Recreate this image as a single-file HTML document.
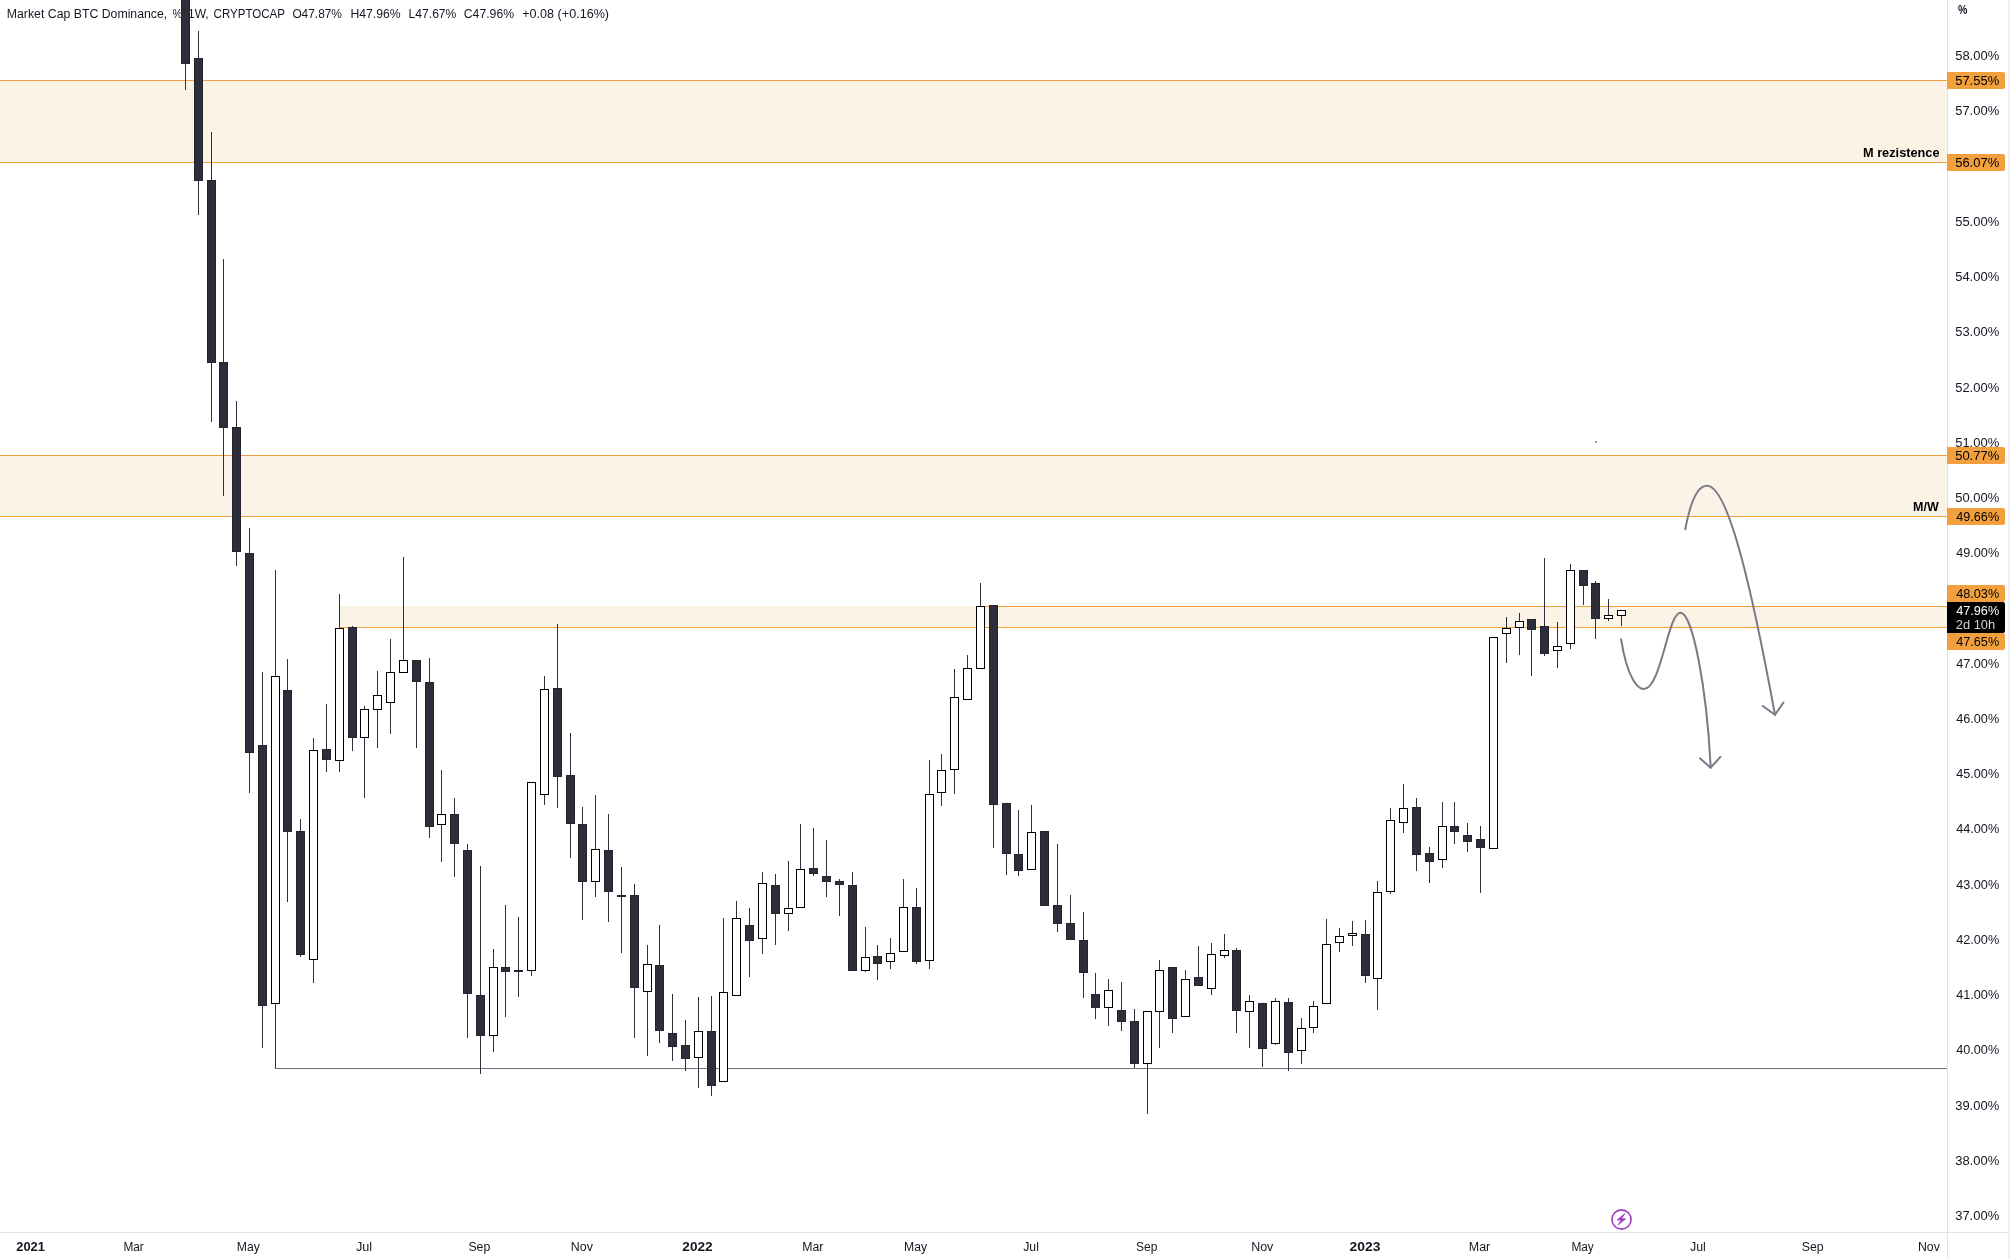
<!DOCTYPE html>
<html><head><meta charset="utf-8"><title>BTC Dominance</title>
<style>
html,body{margin:0;padding:0;background:#fff;}
body{width:2011px;height:1258px;overflow:hidden;position:relative;font-family:"Liberation Sans",sans-serif;}
svg{position:absolute;left:0;top:0;will-change:transform;}
text{font-family:"Liberation Sans",sans-serif;}
</style></head><body>
<svg width="2011" height="1258" viewBox="0 0 2011 1258">
<rect x="0" y="0" width="2011" height="1258" fill="#ffffff"/>

<g shape-rendering="crispEdges">
<rect x="0" y="80" width="1947" height="82" fill="#fcf3e7"/>
<rect x="0" y="455" width="1947" height="61" fill="#fcf3e7"/>
<rect x="340" y="606" width="1607" height="21" fill="#fcf3e7"/>
<rect x="0" y="80" width="1947" height="1" fill="#f2a03d"/>
<rect x="0" y="162" width="1947" height="1" fill="#f2a03d"/>
<rect x="0" y="455" width="1947" height="1" fill="#f2a03d"/>
<rect x="0" y="516" width="1947" height="1" fill="#f2a03d"/>
<rect x="340" y="627" width="1607" height="1" fill="#f2a03d"/>
<rect x="980" y="606" width="967" height="1" fill="#f2a03d"/>
<rect x="275" y="1068" width="1672" height="1" fill="#6f727c"/>
</g>
<text x="6.80" y="18" font-size="12.5" textLength="160.46" lengthAdjust="spacingAndGlyphs" fill="#131722">Market Cap BTC Dominance,</text>
<text x="172.38" y="18" font-size="12.5" textLength="12.82" lengthAdjust="spacingAndGlyphs" fill="#131722">%,</text>
<text x="188.04" y="18" font-size="12.5" textLength="20.68" lengthAdjust="spacingAndGlyphs" fill="#131722">1W,</text>
<text x="213.58" y="18" font-size="12.5" textLength="71.32" lengthAdjust="spacingAndGlyphs" fill="#131722">CRYPTOCAP</text>
<text x="292.39" y="18" font-size="12.5" textLength="49.57" lengthAdjust="spacingAndGlyphs" fill="#131722">O47.87%</text>
<text x="350.40" y="18" font-size="12.5" textLength="50.15" lengthAdjust="spacingAndGlyphs" fill="#131722">H47.96%</text>
<text x="408.61" y="18" font-size="12.5" textLength="47.75" lengthAdjust="spacingAndGlyphs" fill="#131722">L47.67%</text>
<text x="463.80" y="18" font-size="12.5" textLength="50.25" lengthAdjust="spacingAndGlyphs" fill="#131722">C47.96%</text>
<text x="522.20" y="18" font-size="12.5" textLength="86.87" lengthAdjust="spacingAndGlyphs" fill="#131722">+0.08 (+0.16%)</text>
<g shape-rendering="crispEdges">
<rect x="185" y="64" width="1" height="26" fill="#2c2f39"/>
<rect x="181" y="-10" width="9" height="74" fill="#22242f"/>
<rect x="182" y="-9" width="7" height="72" fill="#2c2f39"/>
<rect x="198" y="31" width="1" height="27" fill="#2c2f39"/>
<rect x="198" y="181" width="1" height="34" fill="#2c2f39"/>
<rect x="194" y="58" width="9" height="123" fill="#22242f"/>
<rect x="195" y="59" width="7" height="121" fill="#2c2f39"/>
<rect x="211" y="132" width="1" height="48" fill="#2c2f39"/>
<rect x="211" y="363" width="1" height="59" fill="#2c2f39"/>
<rect x="207" y="180" width="9" height="183" fill="#22242f"/>
<rect x="208" y="181" width="7" height="181" fill="#2c2f39"/>
<rect x="223" y="259" width="1" height="103" fill="#2c2f39"/>
<rect x="223" y="428" width="1" height="68" fill="#2c2f39"/>
<rect x="219" y="362" width="9" height="66" fill="#22242f"/>
<rect x="220" y="363" width="7" height="64" fill="#2c2f39"/>
<rect x="236" y="401" width="1" height="26" fill="#2c2f39"/>
<rect x="236" y="552" width="1" height="14" fill="#2c2f39"/>
<rect x="232" y="427" width="9" height="125" fill="#22242f"/>
<rect x="233" y="428" width="7" height="123" fill="#2c2f39"/>
<rect x="249" y="528" width="1" height="25" fill="#2c2f39"/>
<rect x="249" y="753" width="1" height="40" fill="#2c2f39"/>
<rect x="245" y="553" width="9" height="200" fill="#22242f"/>
<rect x="246" y="554" width="7" height="198" fill="#2c2f39"/>
<rect x="262" y="672" width="1" height="73" fill="#2c2f39"/>
<rect x="262" y="1006" width="1" height="42" fill="#2c2f39"/>
<rect x="258" y="745" width="9" height="261" fill="#22242f"/>
<rect x="259" y="746" width="7" height="259" fill="#2c2f39"/>
<rect x="275" y="570" width="1" height="106" fill="#2c2f39"/>
<rect x="275" y="1004" width="1" height="64" fill="#2c2f39"/>
<rect x="271" y="676" width="9" height="328" fill="#000"/>
<rect x="272" y="677" width="7" height="326" fill="#fff"/>
<rect x="287" y="659" width="1" height="31" fill="#2c2f39"/>
<rect x="287" y="832" width="1" height="70" fill="#2c2f39"/>
<rect x="283" y="690" width="9" height="142" fill="#22242f"/>
<rect x="284" y="691" width="7" height="140" fill="#2c2f39"/>
<rect x="300" y="819" width="1" height="12" fill="#2c2f39"/>
<rect x="300" y="955" width="1" height="2" fill="#2c2f39"/>
<rect x="296" y="831" width="9" height="124" fill="#22242f"/>
<rect x="297" y="832" width="7" height="122" fill="#2c2f39"/>
<rect x="313" y="738" width="1" height="12" fill="#2c2f39"/>
<rect x="313" y="960" width="1" height="23" fill="#2c2f39"/>
<rect x="309" y="750" width="9" height="210" fill="#000"/>
<rect x="310" y="751" width="7" height="208" fill="#fff"/>
<rect x="326" y="704" width="1" height="45" fill="#2c2f39"/>
<rect x="326" y="760" width="1" height="12" fill="#2c2f39"/>
<rect x="322" y="749" width="9" height="11" fill="#22242f"/>
<rect x="323" y="750" width="7" height="9" fill="#2c2f39"/>
<rect x="339" y="594" width="1" height="34" fill="#2c2f39"/>
<rect x="339" y="761" width="1" height="11" fill="#2c2f39"/>
<rect x="335" y="628" width="9" height="133" fill="#000"/>
<rect x="336" y="629" width="7" height="131" fill="#fff"/>
<rect x="352" y="626" width="1" height="1" fill="#2c2f39"/>
<rect x="352" y="738" width="1" height="13" fill="#2c2f39"/>
<rect x="348" y="627" width="9" height="111" fill="#22242f"/>
<rect x="349" y="628" width="7" height="109" fill="#2c2f39"/>
<rect x="364" y="706" width="1" height="3" fill="#2c2f39"/>
<rect x="364" y="738" width="1" height="60" fill="#2c2f39"/>
<rect x="360" y="709" width="9" height="29" fill="#000"/>
<rect x="361" y="710" width="7" height="27" fill="#fff"/>
<rect x="377" y="671" width="1" height="24" fill="#2c2f39"/>
<rect x="377" y="710" width="1" height="38" fill="#2c2f39"/>
<rect x="373" y="695" width="9" height="15" fill="#000"/>
<rect x="374" y="696" width="7" height="13" fill="#fff"/>
<rect x="390" y="639" width="1" height="33" fill="#2c2f39"/>
<rect x="390" y="703" width="1" height="31" fill="#2c2f39"/>
<rect x="386" y="672" width="9" height="31" fill="#000"/>
<rect x="387" y="673" width="7" height="29" fill="#fff"/>
<rect x="403" y="557" width="1" height="103" fill="#2c2f39"/>
<rect x="399" y="660" width="9" height="13" fill="#000"/>
<rect x="400" y="661" width="7" height="11" fill="#fff"/>
<rect x="416" y="682" width="1" height="66" fill="#2c2f39"/>
<rect x="412" y="660" width="9" height="22" fill="#22242f"/>
<rect x="413" y="661" width="7" height="20" fill="#2c2f39"/>
<rect x="429" y="658" width="1" height="24" fill="#2c2f39"/>
<rect x="429" y="827" width="1" height="11" fill="#2c2f39"/>
<rect x="425" y="682" width="9" height="145" fill="#22242f"/>
<rect x="426" y="683" width="7" height="143" fill="#2c2f39"/>
<rect x="441" y="770" width="1" height="44" fill="#2c2f39"/>
<rect x="441" y="825" width="1" height="37" fill="#2c2f39"/>
<rect x="437" y="814" width="9" height="11" fill="#000"/>
<rect x="438" y="815" width="7" height="9" fill="#fff"/>
<rect x="454" y="798" width="1" height="16" fill="#2c2f39"/>
<rect x="454" y="844" width="1" height="33" fill="#2c2f39"/>
<rect x="450" y="814" width="9" height="30" fill="#22242f"/>
<rect x="451" y="815" width="7" height="28" fill="#2c2f39"/>
<rect x="467" y="844" width="1" height="6" fill="#2c2f39"/>
<rect x="467" y="994" width="1" height="44" fill="#2c2f39"/>
<rect x="463" y="850" width="9" height="144" fill="#22242f"/>
<rect x="464" y="851" width="7" height="142" fill="#2c2f39"/>
<rect x="480" y="866" width="1" height="129" fill="#2c2f39"/>
<rect x="480" y="1036" width="1" height="38" fill="#2c2f39"/>
<rect x="476" y="995" width="9" height="41" fill="#22242f"/>
<rect x="477" y="996" width="7" height="39" fill="#2c2f39"/>
<rect x="493" y="949" width="1" height="18" fill="#2c2f39"/>
<rect x="493" y="1036" width="1" height="16" fill="#2c2f39"/>
<rect x="489" y="967" width="9" height="69" fill="#000"/>
<rect x="490" y="968" width="7" height="67" fill="#fff"/>
<rect x="505" y="905" width="1" height="62" fill="#2c2f39"/>
<rect x="505" y="972" width="1" height="45" fill="#2c2f39"/>
<rect x="501" y="967" width="9" height="5" fill="#22242f"/>
<rect x="502" y="968" width="7" height="3" fill="#2c2f39"/>
<rect x="518" y="917" width="1" height="53" fill="#2c2f39"/>
<rect x="518" y="970" width="1" height="27" fill="#2c2f39"/>
<rect x="514" y="970" width="9" height="2" fill="#22242f"/>
<rect x="531" y="971" width="1" height="5" fill="#2c2f39"/>
<rect x="527" y="782" width="9" height="189" fill="#000"/>
<rect x="528" y="783" width="7" height="187" fill="#fff"/>
<rect x="544" y="676" width="1" height="13" fill="#2c2f39"/>
<rect x="544" y="795" width="1" height="10" fill="#2c2f39"/>
<rect x="540" y="689" width="9" height="106" fill="#000"/>
<rect x="541" y="690" width="7" height="104" fill="#fff"/>
<rect x="557" y="624" width="1" height="64" fill="#2c2f39"/>
<rect x="557" y="777" width="1" height="31" fill="#2c2f39"/>
<rect x="553" y="688" width="9" height="89" fill="#22242f"/>
<rect x="554" y="689" width="7" height="87" fill="#2c2f39"/>
<rect x="570" y="733" width="1" height="42" fill="#2c2f39"/>
<rect x="570" y="824" width="1" height="34" fill="#2c2f39"/>
<rect x="566" y="775" width="9" height="49" fill="#22242f"/>
<rect x="567" y="776" width="7" height="47" fill="#2c2f39"/>
<rect x="582" y="807" width="1" height="17" fill="#2c2f39"/>
<rect x="582" y="882" width="1" height="38" fill="#2c2f39"/>
<rect x="578" y="824" width="9" height="58" fill="#22242f"/>
<rect x="579" y="825" width="7" height="56" fill="#2c2f39"/>
<rect x="595" y="795" width="1" height="54" fill="#2c2f39"/>
<rect x="595" y="882" width="1" height="15" fill="#2c2f39"/>
<rect x="591" y="849" width="9" height="33" fill="#000"/>
<rect x="592" y="850" width="7" height="31" fill="#fff"/>
<rect x="608" y="814" width="1" height="36" fill="#2c2f39"/>
<rect x="608" y="892" width="1" height="30" fill="#2c2f39"/>
<rect x="604" y="850" width="9" height="42" fill="#22242f"/>
<rect x="605" y="851" width="7" height="40" fill="#2c2f39"/>
<rect x="621" y="867" width="1" height="28" fill="#2c2f39"/>
<rect x="621" y="895" width="1" height="58" fill="#2c2f39"/>
<rect x="617" y="895" width="9" height="2" fill="#22242f"/>
<rect x="634" y="884" width="1" height="11" fill="#2c2f39"/>
<rect x="634" y="988" width="1" height="50" fill="#2c2f39"/>
<rect x="630" y="895" width="9" height="93" fill="#22242f"/>
<rect x="631" y="896" width="7" height="91" fill="#2c2f39"/>
<rect x="647" y="945" width="1" height="19" fill="#2c2f39"/>
<rect x="647" y="992" width="1" height="64" fill="#2c2f39"/>
<rect x="643" y="964" width="9" height="28" fill="#000"/>
<rect x="644" y="965" width="7" height="26" fill="#fff"/>
<rect x="659" y="925" width="1" height="40" fill="#2c2f39"/>
<rect x="659" y="1031" width="1" height="12" fill="#2c2f39"/>
<rect x="655" y="965" width="9" height="66" fill="#22242f"/>
<rect x="656" y="966" width="7" height="64" fill="#2c2f39"/>
<rect x="672" y="994" width="1" height="39" fill="#2c2f39"/>
<rect x="672" y="1047" width="1" height="14" fill="#2c2f39"/>
<rect x="668" y="1033" width="9" height="14" fill="#22242f"/>
<rect x="669" y="1034" width="7" height="12" fill="#2c2f39"/>
<rect x="685" y="1020" width="1" height="25" fill="#2c2f39"/>
<rect x="685" y="1059" width="1" height="12" fill="#2c2f39"/>
<rect x="681" y="1045" width="9" height="14" fill="#22242f"/>
<rect x="682" y="1046" width="7" height="12" fill="#2c2f39"/>
<rect x="698" y="997" width="1" height="34" fill="#2c2f39"/>
<rect x="698" y="1058" width="1" height="30" fill="#2c2f39"/>
<rect x="694" y="1031" width="9" height="27" fill="#000"/>
<rect x="695" y="1032" width="7" height="25" fill="#fff"/>
<rect x="711" y="996" width="1" height="35" fill="#2c2f39"/>
<rect x="711" y="1086" width="1" height="10" fill="#2c2f39"/>
<rect x="707" y="1031" width="9" height="55" fill="#22242f"/>
<rect x="708" y="1032" width="7" height="53" fill="#2c2f39"/>
<rect x="723" y="918" width="1" height="74" fill="#2c2f39"/>
<rect x="719" y="992" width="9" height="90" fill="#000"/>
<rect x="720" y="993" width="7" height="88" fill="#fff"/>
<rect x="736" y="901" width="1" height="17" fill="#2c2f39"/>
<rect x="732" y="918" width="9" height="78" fill="#000"/>
<rect x="733" y="919" width="7" height="76" fill="#fff"/>
<rect x="749" y="908" width="1" height="17" fill="#2c2f39"/>
<rect x="749" y="941" width="1" height="36" fill="#2c2f39"/>
<rect x="745" y="925" width="9" height="16" fill="#22242f"/>
<rect x="746" y="926" width="7" height="14" fill="#2c2f39"/>
<rect x="762" y="872" width="1" height="11" fill="#2c2f39"/>
<rect x="762" y="939" width="1" height="15" fill="#2c2f39"/>
<rect x="758" y="883" width="9" height="56" fill="#000"/>
<rect x="759" y="884" width="7" height="54" fill="#fff"/>
<rect x="775" y="874" width="1" height="11" fill="#2c2f39"/>
<rect x="775" y="914" width="1" height="31" fill="#2c2f39"/>
<rect x="771" y="885" width="9" height="29" fill="#22242f"/>
<rect x="772" y="886" width="7" height="27" fill="#2c2f39"/>
<rect x="788" y="861" width="1" height="47" fill="#2c2f39"/>
<rect x="788" y="914" width="1" height="17" fill="#2c2f39"/>
<rect x="784" y="908" width="9" height="6" fill="#000"/>
<rect x="785" y="909" width="7" height="4" fill="#fff"/>
<rect x="800" y="824" width="1" height="45" fill="#2c2f39"/>
<rect x="796" y="869" width="9" height="39" fill="#000"/>
<rect x="797" y="870" width="7" height="37" fill="#fff"/>
<rect x="813" y="828" width="1" height="40" fill="#2c2f39"/>
<rect x="813" y="874" width="1" height="2" fill="#2c2f39"/>
<rect x="809" y="868" width="9" height="6" fill="#22242f"/>
<rect x="810" y="869" width="7" height="4" fill="#2c2f39"/>
<rect x="826" y="840" width="1" height="36" fill="#2c2f39"/>
<rect x="826" y="882" width="1" height="15" fill="#2c2f39"/>
<rect x="822" y="876" width="9" height="6" fill="#22242f"/>
<rect x="823" y="877" width="7" height="4" fill="#2c2f39"/>
<rect x="839" y="879" width="1" height="2" fill="#2c2f39"/>
<rect x="839" y="885" width="1" height="31" fill="#2c2f39"/>
<rect x="835" y="881" width="9" height="4" fill="#22242f"/>
<rect x="836" y="882" width="7" height="2" fill="#2c2f39"/>
<rect x="852" y="872" width="1" height="13" fill="#2c2f39"/>
<rect x="848" y="885" width="9" height="86" fill="#22242f"/>
<rect x="849" y="886" width="7" height="84" fill="#2c2f39"/>
<rect x="865" y="927" width="1" height="30" fill="#2c2f39"/>
<rect x="865" y="971" width="1" height="1" fill="#2c2f39"/>
<rect x="861" y="957" width="9" height="14" fill="#000"/>
<rect x="862" y="958" width="7" height="12" fill="#fff"/>
<rect x="877" y="945" width="1" height="11" fill="#2c2f39"/>
<rect x="877" y="964" width="1" height="16" fill="#2c2f39"/>
<rect x="873" y="956" width="9" height="8" fill="#22242f"/>
<rect x="874" y="957" width="7" height="6" fill="#2c2f39"/>
<rect x="890" y="938" width="1" height="15" fill="#2c2f39"/>
<rect x="890" y="962" width="1" height="7" fill="#2c2f39"/>
<rect x="886" y="953" width="9" height="9" fill="#000"/>
<rect x="887" y="954" width="7" height="7" fill="#fff"/>
<rect x="903" y="879" width="1" height="28" fill="#2c2f39"/>
<rect x="899" y="907" width="9" height="45" fill="#000"/>
<rect x="900" y="908" width="7" height="43" fill="#fff"/>
<rect x="916" y="888" width="1" height="19" fill="#2c2f39"/>
<rect x="916" y="962" width="1" height="2" fill="#2c2f39"/>
<rect x="912" y="907" width="9" height="55" fill="#22242f"/>
<rect x="913" y="908" width="7" height="53" fill="#2c2f39"/>
<rect x="929" y="760" width="1" height="34" fill="#2c2f39"/>
<rect x="929" y="961" width="1" height="8" fill="#2c2f39"/>
<rect x="925" y="794" width="9" height="167" fill="#000"/>
<rect x="926" y="795" width="7" height="165" fill="#fff"/>
<rect x="941" y="754" width="1" height="16" fill="#2c2f39"/>
<rect x="941" y="793" width="1" height="13" fill="#2c2f39"/>
<rect x="937" y="770" width="9" height="23" fill="#000"/>
<rect x="938" y="771" width="7" height="21" fill="#fff"/>
<rect x="954" y="669" width="1" height="28" fill="#2c2f39"/>
<rect x="954" y="770" width="1" height="24" fill="#2c2f39"/>
<rect x="950" y="697" width="9" height="73" fill="#000"/>
<rect x="951" y="698" width="7" height="71" fill="#fff"/>
<rect x="967" y="655" width="1" height="13" fill="#2c2f39"/>
<rect x="963" y="668" width="9" height="32" fill="#000"/>
<rect x="964" y="669" width="7" height="30" fill="#fff"/>
<rect x="980" y="583" width="1" height="23" fill="#2c2f39"/>
<rect x="976" y="606" width="9" height="63" fill="#000"/>
<rect x="977" y="607" width="7" height="61" fill="#fff"/>
<rect x="993" y="805" width="1" height="43" fill="#2c2f39"/>
<rect x="989" y="605" width="9" height="200" fill="#22242f"/>
<rect x="990" y="606" width="7" height="198" fill="#2c2f39"/>
<rect x="1006" y="854" width="1" height="21" fill="#2c2f39"/>
<rect x="1002" y="803" width="9" height="51" fill="#22242f"/>
<rect x="1003" y="804" width="7" height="49" fill="#2c2f39"/>
<rect x="1018" y="810" width="1" height="44" fill="#2c2f39"/>
<rect x="1018" y="871" width="1" height="5" fill="#2c2f39"/>
<rect x="1014" y="854" width="9" height="17" fill="#22242f"/>
<rect x="1015" y="855" width="7" height="15" fill="#2c2f39"/>
<rect x="1031" y="805" width="1" height="27" fill="#2c2f39"/>
<rect x="1027" y="832" width="9" height="38" fill="#000"/>
<rect x="1028" y="833" width="7" height="36" fill="#fff"/>
<rect x="1040" y="831" width="9" height="75" fill="#22242f"/>
<rect x="1041" y="832" width="7" height="73" fill="#2c2f39"/>
<rect x="1057" y="844" width="1" height="61" fill="#2c2f39"/>
<rect x="1057" y="924" width="1" height="8" fill="#2c2f39"/>
<rect x="1053" y="905" width="9" height="19" fill="#22242f"/>
<rect x="1054" y="906" width="7" height="17" fill="#2c2f39"/>
<rect x="1070" y="895" width="1" height="28" fill="#2c2f39"/>
<rect x="1066" y="923" width="9" height="17" fill="#22242f"/>
<rect x="1067" y="924" width="7" height="15" fill="#2c2f39"/>
<rect x="1083" y="912" width="1" height="28" fill="#2c2f39"/>
<rect x="1083" y="973" width="1" height="25" fill="#2c2f39"/>
<rect x="1079" y="940" width="9" height="33" fill="#22242f"/>
<rect x="1080" y="941" width="7" height="31" fill="#2c2f39"/>
<rect x="1095" y="973" width="1" height="21" fill="#2c2f39"/>
<rect x="1095" y="1008" width="1" height="11" fill="#2c2f39"/>
<rect x="1091" y="994" width="9" height="14" fill="#22242f"/>
<rect x="1092" y="995" width="7" height="12" fill="#2c2f39"/>
<rect x="1108" y="979" width="1" height="11" fill="#2c2f39"/>
<rect x="1108" y="1008" width="1" height="18" fill="#2c2f39"/>
<rect x="1104" y="990" width="9" height="18" fill="#000"/>
<rect x="1105" y="991" width="7" height="16" fill="#fff"/>
<rect x="1121" y="982" width="1" height="28" fill="#2c2f39"/>
<rect x="1121" y="1022" width="1" height="9" fill="#2c2f39"/>
<rect x="1117" y="1010" width="9" height="12" fill="#22242f"/>
<rect x="1118" y="1011" width="7" height="10" fill="#2c2f39"/>
<rect x="1134" y="1009" width="1" height="12" fill="#2c2f39"/>
<rect x="1134" y="1064" width="1" height="4" fill="#2c2f39"/>
<rect x="1130" y="1021" width="9" height="43" fill="#22242f"/>
<rect x="1131" y="1022" width="7" height="41" fill="#2c2f39"/>
<rect x="1147" y="1064" width="1" height="50" fill="#2c2f39"/>
<rect x="1143" y="1011" width="9" height="53" fill="#000"/>
<rect x="1144" y="1012" width="7" height="51" fill="#fff"/>
<rect x="1159" y="960" width="1" height="10" fill="#2c2f39"/>
<rect x="1159" y="1012" width="1" height="36" fill="#2c2f39"/>
<rect x="1155" y="970" width="9" height="42" fill="#000"/>
<rect x="1156" y="971" width="7" height="40" fill="#fff"/>
<rect x="1172" y="1019" width="1" height="14" fill="#2c2f39"/>
<rect x="1168" y="967" width="9" height="52" fill="#22242f"/>
<rect x="1169" y="968" width="7" height="50" fill="#2c2f39"/>
<rect x="1185" y="970" width="1" height="9" fill="#2c2f39"/>
<rect x="1181" y="979" width="9" height="38" fill="#000"/>
<rect x="1182" y="980" width="7" height="36" fill="#fff"/>
<rect x="1198" y="946" width="1" height="31" fill="#2c2f39"/>
<rect x="1194" y="977" width="9" height="9" fill="#22242f"/>
<rect x="1195" y="978" width="7" height="7" fill="#2c2f39"/>
<rect x="1211" y="943" width="1" height="11" fill="#2c2f39"/>
<rect x="1211" y="989" width="1" height="6" fill="#2c2f39"/>
<rect x="1207" y="954" width="9" height="35" fill="#000"/>
<rect x="1208" y="955" width="7" height="33" fill="#fff"/>
<rect x="1224" y="934" width="1" height="16" fill="#2c2f39"/>
<rect x="1224" y="956" width="1" height="2" fill="#2c2f39"/>
<rect x="1220" y="950" width="9" height="6" fill="#000"/>
<rect x="1221" y="951" width="7" height="4" fill="#fff"/>
<rect x="1236" y="948" width="1" height="2" fill="#2c2f39"/>
<rect x="1236" y="1011" width="1" height="22" fill="#2c2f39"/>
<rect x="1232" y="950" width="9" height="61" fill="#22242f"/>
<rect x="1233" y="951" width="7" height="59" fill="#2c2f39"/>
<rect x="1249" y="995" width="1" height="6" fill="#2c2f39"/>
<rect x="1249" y="1012" width="1" height="36" fill="#2c2f39"/>
<rect x="1245" y="1001" width="9" height="11" fill="#000"/>
<rect x="1246" y="1002" width="7" height="9" fill="#fff"/>
<rect x="1262" y="1049" width="1" height="18" fill="#2c2f39"/>
<rect x="1258" y="1003" width="9" height="46" fill="#22242f"/>
<rect x="1259" y="1004" width="7" height="44" fill="#2c2f39"/>
<rect x="1275" y="998" width="1" height="3" fill="#2c2f39"/>
<rect x="1275" y="1044" width="1" height="1" fill="#2c2f39"/>
<rect x="1271" y="1001" width="9" height="43" fill="#000"/>
<rect x="1272" y="1002" width="7" height="41" fill="#fff"/>
<rect x="1288" y="998" width="1" height="4" fill="#2c2f39"/>
<rect x="1288" y="1053" width="1" height="18" fill="#2c2f39"/>
<rect x="1284" y="1002" width="9" height="51" fill="#22242f"/>
<rect x="1285" y="1003" width="7" height="49" fill="#2c2f39"/>
<rect x="1301" y="1018" width="1" height="10" fill="#2c2f39"/>
<rect x="1301" y="1051" width="1" height="13" fill="#2c2f39"/>
<rect x="1297" y="1028" width="9" height="23" fill="#000"/>
<rect x="1298" y="1029" width="7" height="21" fill="#fff"/>
<rect x="1313" y="1001" width="1" height="5" fill="#2c2f39"/>
<rect x="1313" y="1028" width="1" height="5" fill="#2c2f39"/>
<rect x="1309" y="1006" width="9" height="22" fill="#000"/>
<rect x="1310" y="1007" width="7" height="20" fill="#fff"/>
<rect x="1326" y="919" width="1" height="25" fill="#2c2f39"/>
<rect x="1322" y="944" width="9" height="60" fill="#000"/>
<rect x="1323" y="945" width="7" height="58" fill="#fff"/>
<rect x="1339" y="928" width="1" height="8" fill="#2c2f39"/>
<rect x="1339" y="943" width="1" height="9" fill="#2c2f39"/>
<rect x="1335" y="936" width="9" height="7" fill="#000"/>
<rect x="1336" y="937" width="7" height="5" fill="#fff"/>
<rect x="1352" y="921" width="1" height="12" fill="#2c2f39"/>
<rect x="1352" y="936" width="1" height="10" fill="#2c2f39"/>
<rect x="1348" y="933" width="9" height="3" fill="#000"/>
<rect x="1349" y="934" width="7" height="1" fill="#fff"/>
<rect x="1365" y="920" width="1" height="14" fill="#2c2f39"/>
<rect x="1365" y="976" width="1" height="7" fill="#2c2f39"/>
<rect x="1361" y="934" width="9" height="42" fill="#22242f"/>
<rect x="1362" y="935" width="7" height="40" fill="#2c2f39"/>
<rect x="1377" y="881" width="1" height="11" fill="#2c2f39"/>
<rect x="1377" y="979" width="1" height="31" fill="#2c2f39"/>
<rect x="1373" y="892" width="9" height="87" fill="#000"/>
<rect x="1374" y="893" width="7" height="85" fill="#fff"/>
<rect x="1390" y="808" width="1" height="12" fill="#2c2f39"/>
<rect x="1390" y="892" width="1" height="2" fill="#2c2f39"/>
<rect x="1386" y="820" width="9" height="72" fill="#000"/>
<rect x="1387" y="821" width="7" height="70" fill="#fff"/>
<rect x="1403" y="784" width="1" height="24" fill="#2c2f39"/>
<rect x="1403" y="823" width="1" height="10" fill="#2c2f39"/>
<rect x="1399" y="808" width="9" height="15" fill="#000"/>
<rect x="1400" y="809" width="7" height="13" fill="#fff"/>
<rect x="1416" y="798" width="1" height="9" fill="#2c2f39"/>
<rect x="1416" y="855" width="1" height="16" fill="#2c2f39"/>
<rect x="1412" y="807" width="9" height="48" fill="#22242f"/>
<rect x="1413" y="808" width="7" height="46" fill="#2c2f39"/>
<rect x="1429" y="847" width="1" height="6" fill="#2c2f39"/>
<rect x="1429" y="862" width="1" height="21" fill="#2c2f39"/>
<rect x="1425" y="853" width="9" height="9" fill="#22242f"/>
<rect x="1426" y="854" width="7" height="7" fill="#2c2f39"/>
<rect x="1442" y="802" width="1" height="24" fill="#2c2f39"/>
<rect x="1442" y="860" width="1" height="8" fill="#2c2f39"/>
<rect x="1438" y="826" width="9" height="34" fill="#000"/>
<rect x="1439" y="827" width="7" height="32" fill="#fff"/>
<rect x="1454" y="802" width="1" height="24" fill="#2c2f39"/>
<rect x="1454" y="832" width="1" height="12" fill="#2c2f39"/>
<rect x="1450" y="826" width="9" height="6" fill="#22242f"/>
<rect x="1451" y="827" width="7" height="4" fill="#2c2f39"/>
<rect x="1467" y="823" width="1" height="12" fill="#2c2f39"/>
<rect x="1467" y="842" width="1" height="10" fill="#2c2f39"/>
<rect x="1463" y="835" width="9" height="7" fill="#22242f"/>
<rect x="1464" y="836" width="7" height="5" fill="#2c2f39"/>
<rect x="1480" y="826" width="1" height="13" fill="#2c2f39"/>
<rect x="1480" y="848" width="1" height="45" fill="#2c2f39"/>
<rect x="1476" y="839" width="9" height="9" fill="#22242f"/>
<rect x="1477" y="840" width="7" height="7" fill="#2c2f39"/>
<rect x="1489" y="637" width="9" height="212" fill="#000"/>
<rect x="1490" y="638" width="7" height="210" fill="#fff"/>
<rect x="1506" y="617" width="1" height="11" fill="#2c2f39"/>
<rect x="1506" y="634" width="1" height="29" fill="#2c2f39"/>
<rect x="1502" y="628" width="9" height="6" fill="#000"/>
<rect x="1503" y="629" width="7" height="4" fill="#fff"/>
<rect x="1519" y="613" width="1" height="8" fill="#2c2f39"/>
<rect x="1519" y="628" width="1" height="27" fill="#2c2f39"/>
<rect x="1515" y="621" width="9" height="7" fill="#000"/>
<rect x="1516" y="622" width="7" height="5" fill="#fff"/>
<rect x="1531" y="630" width="1" height="46" fill="#2c2f39"/>
<rect x="1527" y="619" width="9" height="11" fill="#22242f"/>
<rect x="1528" y="620" width="7" height="9" fill="#2c2f39"/>
<rect x="1544" y="558" width="1" height="68" fill="#2c2f39"/>
<rect x="1544" y="654" width="1" height="2" fill="#2c2f39"/>
<rect x="1540" y="626" width="9" height="28" fill="#22242f"/>
<rect x="1541" y="627" width="7" height="26" fill="#2c2f39"/>
<rect x="1557" y="622" width="1" height="24" fill="#2c2f39"/>
<rect x="1557" y="651" width="1" height="17" fill="#2c2f39"/>
<rect x="1553" y="646" width="9" height="5" fill="#000"/>
<rect x="1554" y="647" width="7" height="3" fill="#fff"/>
<rect x="1570" y="564" width="1" height="6" fill="#2c2f39"/>
<rect x="1570" y="644" width="1" height="5" fill="#2c2f39"/>
<rect x="1566" y="570" width="9" height="74" fill="#000"/>
<rect x="1567" y="571" width="7" height="72" fill="#fff"/>
<rect x="1583" y="586" width="1" height="19" fill="#2c2f39"/>
<rect x="1579" y="570" width="9" height="16" fill="#22242f"/>
<rect x="1580" y="571" width="7" height="14" fill="#2c2f39"/>
<rect x="1595" y="581" width="1" height="2" fill="#2c2f39"/>
<rect x="1595" y="619" width="1" height="20" fill="#2c2f39"/>
<rect x="1591" y="583" width="9" height="36" fill="#22242f"/>
<rect x="1592" y="584" width="7" height="34" fill="#2c2f39"/>
<rect x="1608" y="599" width="1" height="16" fill="#2c2f39"/>
<rect x="1608" y="619" width="1" height="2" fill="#2c2f39"/>
<rect x="1604" y="615" width="9" height="4" fill="#000"/>
<rect x="1605" y="616" width="7" height="2" fill="#fff"/>
<rect x="1621" y="616" width="1" height="10" fill="#2c2f39"/>
<rect x="1617" y="610" width="9" height="6" fill="#000"/>
<rect x="1618" y="611" width="7" height="4" fill="#fff"/>
</g>
<g fill="none" stroke="#787b86" stroke-width="2" stroke-linecap="round" stroke-linejoin="round">
<path d="M1685.3,529.2 C1690.0,503.8 1696.4,485.7 1707,485.7 C1728.4,485.7 1752.3,591.2 1775,714.8"/>
<path d="M1762.8,706 L1775,714.8 L1783.5,702.5"/>
<path d="M1621.1,639.3 C1627.5,679.5 1638.2,689 1643.8,689 C1661.1,689 1667.9,612.7 1680.4,612.7 C1692.8,612.7 1706.8,689 1710.7,767.7"/>
<path d="M1699.9,758.3 L1710.7,767.7 L1720.4,756.9"/>
</g>
<rect x="1595" y="441" width="2" height="2" fill="#999"/>
<text x="1863.00" y="157" font-size="12.5" font-weight="bold" textLength="76.53" lengthAdjust="spacingAndGlyphs" fill="#000">M rezistence</text>
<text x="1913.00" y="511" font-size="12.5" font-weight="bold" textLength="25.69" lengthAdjust="spacingAndGlyphs" fill="#000">M/W</text>
<g shape-rendering="crispEdges">
<rect x="1948" y="0" width="63" height="1258" fill="#ffffff"/>
<rect x="0" y="1233" width="2011" height="25" fill="#ffffff"/>
<rect x="1947" y="0" width="1" height="1258" fill="#e0e3eb"/>
<rect x="2008" y="0" width="2" height="1258" fill="#eff0f3"/>
<rect x="0" y="1232" width="2008" height="1" fill="#e0e3eb"/>
</g>
<text x="1957.92" y="14" font-size="12.5" font-weight="bold" textLength="9.36" lengthAdjust="spacingAndGlyphs" fill="#131722">%</text>
<text x="1955.18" y="1220.1" font-size="12.5" textLength="44.02" lengthAdjust="spacingAndGlyphs" fill="#131722">37.00%</text>
<text x="1955.18" y="1164.9" font-size="12.5" textLength="44.02" lengthAdjust="spacingAndGlyphs" fill="#131722">38.00%</text>
<text x="1955.18" y="1109.6" font-size="12.5" textLength="44.02" lengthAdjust="spacingAndGlyphs" fill="#131722">39.00%</text>
<text x="1956.21" y="1054.4" font-size="12.5" textLength="43.00" lengthAdjust="spacingAndGlyphs" fill="#131722">40.00%</text>
<text x="1956.21" y="999.1" font-size="12.5" textLength="43.00" lengthAdjust="spacingAndGlyphs" fill="#131722">41.00%</text>
<text x="1956.21" y="943.9" font-size="12.5" textLength="43.00" lengthAdjust="spacingAndGlyphs" fill="#131722">42.00%</text>
<text x="1956.21" y="888.6" font-size="12.5" textLength="43.00" lengthAdjust="spacingAndGlyphs" fill="#131722">43.00%</text>
<text x="1956.21" y="833.4" font-size="12.5" textLength="43.00" lengthAdjust="spacingAndGlyphs" fill="#131722">44.00%</text>
<text x="1956.21" y="778.2" font-size="12.5" textLength="43.00" lengthAdjust="spacingAndGlyphs" fill="#131722">45.00%</text>
<text x="1956.21" y="722.9" font-size="12.5" textLength="43.00" lengthAdjust="spacingAndGlyphs" fill="#131722">46.00%</text>
<text x="1956.21" y="667.7" font-size="12.5" textLength="43.00" lengthAdjust="spacingAndGlyphs" fill="#131722">47.00%</text>
<text x="1956.21" y="557.2" font-size="12.5" textLength="43.00" lengthAdjust="spacingAndGlyphs" fill="#131722">49.00%</text>
<text x="1955.18" y="501.9" font-size="12.5" textLength="44.02" lengthAdjust="spacingAndGlyphs" fill="#131722">50.00%</text>
<text x="1955.18" y="446.7" font-size="12.5" textLength="44.02" lengthAdjust="spacingAndGlyphs" fill="#131722">51.00%</text>
<text x="1955.18" y="391.5" font-size="12.5" textLength="44.02" lengthAdjust="spacingAndGlyphs" fill="#131722">52.00%</text>
<text x="1955.18" y="336.2" font-size="12.5" textLength="44.02" lengthAdjust="spacingAndGlyphs" fill="#131722">53.00%</text>
<text x="1955.18" y="281.0" font-size="12.5" textLength="44.02" lengthAdjust="spacingAndGlyphs" fill="#131722">54.00%</text>
<text x="1955.18" y="225.7" font-size="12.5" textLength="44.02" lengthAdjust="spacingAndGlyphs" fill="#131722">55.00%</text>
<text x="1955.18" y="115.2" font-size="12.5" textLength="44.02" lengthAdjust="spacingAndGlyphs" fill="#131722">57.00%</text>
<text x="1955.18" y="60.0" font-size="12.5" textLength="44.02" lengthAdjust="spacingAndGlyphs" fill="#131722">58.00%</text>
<path d="M1947,72 H2003 Q2005,72 2005,74 V87 Q2005,89 2003,89 H1947 Z" fill="#f2a03d"/>
<path d="M1947,154 H2003 Q2005,154 2005,156 V169 Q2005,171 2003,171 H1947 Z" fill="#f2a03d"/>
<path d="M1947,447 H2003 Q2005,447 2005,449 V462 Q2005,464 2003,464 H1947 Z" fill="#f2a03d"/>
<path d="M1947,508 H2003 Q2005,508 2005,510 V523 Q2005,525 2003,525 H1947 Z" fill="#f2a03d"/>
<path d="M1947,585 H2003 Q2005,585 2005,587 V600 Q2005,602 2003,602 H1947 Z" fill="#f2a03d"/>
<path d="M1947,633 H2003 Q2005,633 2005,635 V648 Q2005,650 2003,650 H1947 Z" fill="#f2a03d"/>
<path d="M1947,602 H2003 Q2005,602 2005,604 V631 Q2005,633 2003,633 H1947 Z" fill="#000"/>
<text x="1955.18" y="84.9" font-size="12.5" textLength="44.02" lengthAdjust="spacingAndGlyphs" fill="#000">57.55%</text>
<text x="1955.18" y="166.9" font-size="12.5" textLength="44.02" lengthAdjust="spacingAndGlyphs" fill="#000">56.07%</text>
<text x="1955.18" y="459.9" font-size="12.5" textLength="44.02" lengthAdjust="spacingAndGlyphs" fill="#000">50.77%</text>
<text x="1956.21" y="520.9" font-size="12.5" textLength="43.00" lengthAdjust="spacingAndGlyphs" fill="#000">49.66%</text>
<text x="1956.21" y="597.9" font-size="12.5" textLength="43.00" lengthAdjust="spacingAndGlyphs" fill="#000">48.03%</text>
<text x="1956.21" y="645.9" font-size="12.5" textLength="43.00" lengthAdjust="spacingAndGlyphs" fill="#000">47.65%</text>
<text x="1956.21" y="615" font-size="12.5" textLength="43.00" lengthAdjust="spacingAndGlyphs" fill="#ffffff">47.96%</text>
<text x="1955.80" y="629" font-size="12.5" textLength="39.34" lengthAdjust="spacingAndGlyphs" fill="#d1d4dc">2d 10h</text>
<text x="16.22" y="1251" font-size="12.5" font-weight="bold" textLength="28.68" lengthAdjust="spacingAndGlyphs" fill="#131722">2021</text>
<text x="123.39" y="1251" font-size="12.5" textLength="20.36" lengthAdjust="spacingAndGlyphs" fill="#131722">Mar</text>
<text x="236.82" y="1251" font-size="12.5" textLength="23.01" lengthAdjust="spacingAndGlyphs" fill="#131722">May</text>
<text x="356.00" y="1251" font-size="12.5" textLength="16.18" lengthAdjust="spacingAndGlyphs" fill="#131722">Jul</text>
<text x="468.41" y="1251" font-size="12.5" textLength="21.85" lengthAdjust="spacingAndGlyphs" fill="#131722">Sep</text>
<text x="570.81" y="1251" font-size="12.5" textLength="22.03" lengthAdjust="spacingAndGlyphs" fill="#131722">Nov</text>
<text x="682.37" y="1251" font-size="12.5" font-weight="bold" textLength="30.20" lengthAdjust="spacingAndGlyphs" fill="#131722">2022</text>
<text x="802.21" y="1251" font-size="12.5" textLength="21.12" lengthAdjust="spacingAndGlyphs" fill="#131722">Mar</text>
<text x="904.01" y="1251" font-size="12.5" textLength="23.01" lengthAdjust="spacingAndGlyphs" fill="#131722">May</text>
<text x="1023.21" y="1251" font-size="12.5" textLength="15.68" lengthAdjust="spacingAndGlyphs" fill="#131722">Jul</text>
<text x="1136.00" y="1251" font-size="12.5" textLength="21.34" lengthAdjust="spacingAndGlyphs" fill="#131722">Sep</text>
<text x="1251.20" y="1251" font-size="12.5" textLength="22.13" lengthAdjust="spacingAndGlyphs" fill="#131722">Nov</text>
<text x="1349.63" y="1251" font-size="12.5" font-weight="bold" textLength="30.89" lengthAdjust="spacingAndGlyphs" fill="#131722">2023</text>
<text x="1468.80" y="1251" font-size="12.5" textLength="21.43" lengthAdjust="spacingAndGlyphs" fill="#131722">Mar</text>
<text x="1571.39" y="1251" font-size="12.5" textLength="22.44" lengthAdjust="spacingAndGlyphs" fill="#131722">May</text>
<text x="1690.00" y="1251" font-size="12.5" textLength="15.78" lengthAdjust="spacingAndGlyphs" fill="#131722">Jul</text>
<text x="1801.81" y="1251" font-size="12.5" textLength="21.85" lengthAdjust="spacingAndGlyphs" fill="#131722">Sep</text>
<text x="1918.00" y="1251" font-size="12.5" textLength="21.83" lengthAdjust="spacingAndGlyphs" fill="#131722">Nov</text>
<g>
<circle cx="1621.5" cy="1219.5" r="9.6" fill="none" stroke="#9c3fbf" stroke-width="1.6"/>
<path d="M1624.8,1213.6 L1617,1220 L1621.2,1220 L1618,1225 L1625.8,1218.8 L1621.6,1218.8 Z" fill="#9c3fbf" stroke="#9c3fbf" stroke-width="0.7" stroke-linejoin="round"/>
</g>
</svg></body></html>
